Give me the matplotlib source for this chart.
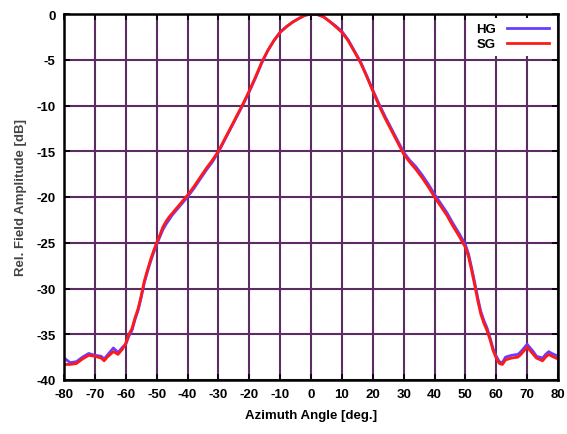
import matplotlib
matplotlib.use("Agg")
import matplotlib.pyplot as plt

angles = [-80, -78, -76, -74, -72, -70, -68, -67, -66, -64, -62.5, -61, -60, -59, -58, -57, -56, -55,
          -54, -53, -52, -51, -50, -49, -48, -47, -46, -45, -44, -42, -40, -38, -36, -34, -32, -30,
          -28, -26, -24, -22, -20, -18, -16, -14, -12, -10, -8, -6, -4, -2, 0, 2, 4, 6, 8, 10, 12,
          14, 16, 18, 20, 22, 24, 26, 28, 30, 32, 34, 36, 38, 40, 42, 44, 46, 48, 50, 51, 52, 53,
          54, 55, 56, 57, 58, 59, 60, 61, 62, 63, 65, 67, 68, 69, 70, 71, 72, 73, 75, 76, 77, 78, 80]

sg_db = [-38.3, -38.3, -38.2, -37.7, -37.3, -37.4, -37.6, -37.9, -37.5, -36.9, -37.2, -36.6, -36.0,
         -35.0, -34.4, -33.2, -32.2, -30.8, -29.2, -28.0, -26.9, -25.9, -25.0, -24.2, -23.3, -22.7,
         -22.2, -21.8, -21.4, -20.6, -19.8, -18.9, -17.9, -16.9, -16.0, -15.0, -13.7, -12.4, -11.1,
         -9.8, -8.4, -6.9, -5.3, -4.0, -2.9, -2.0, -1.4, -0.9, -0.5, -0.15, 0.0, -0.05, -0.3, -0.8,
         -1.4, -2.0, -2.9, -4.1, -5.3, -6.8, -8.4, -10.0, -11.4, -12.7, -14.0, -15.3, -16.2, -17.0,
         -17.9, -18.9, -20.0, -21.0, -22.0, -23.2, -24.3, -25.5, -26.5, -28.0, -29.6, -31.3, -32.8,
         -33.8, -34.6, -35.6, -36.8, -37.6, -38.2, -38.3, -37.8, -37.6, -37.5, -37.2, -36.8, -36.4,
         -36.8, -37.2, -37.6, -37.9, -37.5, -37.2, -37.4, -37.7]

hg_db = [-37.6, -38.1, -38.0, -37.5, -37.1, -37.3, -37.4, -37.7, -37.3, -36.5, -37.0, -36.4, -36.1,
         -35.2, -34.6, -33.4, -32.4, -31.0, -29.4, -28.2, -27.1, -26.1, -25.2, -24.4, -23.6, -23.0,
         -22.5, -22.0, -21.6, -20.8, -20.0, -19.1, -18.1, -17.1, -16.2, -15.1, -13.8, -12.5, -11.2,
         -9.9, -8.5, -7.0, -5.4, -4.0, -2.9, -2.0, -1.4, -0.9, -0.5, -0.15, 0.0, -0.05, -0.3, -0.8,
         -1.3, -1.9, -2.8, -4.0, -5.2, -6.7, -8.3, -9.8, -11.2, -12.5, -13.8, -15.1, -16.0, -16.7,
         -17.6, -18.6, -19.7, -20.7, -21.7, -22.9, -24.0, -25.2, -26.2, -27.7, -29.3, -31.0, -32.5,
         -33.5, -34.3, -35.4, -36.6, -37.4, -38.0, -38.1, -37.5, -37.3, -37.2, -36.9, -36.5, -36.1,
         -36.5, -36.9, -37.4, -37.6, -37.2, -36.9, -37.1, -37.4]

xticks = list(range(-80, 81, 10))
yticks = list(range(-40, 1, 5))

plt.rcParams['font.family'] = ['Liberation Sans', 'DejaVu Sans']

fig = plt.figure(figsize=(5.67, 4.35), dpi=100)
ax = fig.add_axes([64/567, 1-381/435, (558-64)/567, (381-15)/435])

grid_col = '#5c2d62'
ax.plot(angles, hg_db, color='#6a3cff', lw=2.0, label='HG', zorder=3)
ax.plot(angles, sg_db, color='#ff1a1a', lw=2.0, label='SG', zorder=4)

ax.set_xlim(-80, 80)
ax.set_ylim(-40, 0)
ax.set_xticks(xticks)
ax.set_yticks(yticks)
ax.set_xticklabels([str(t) for t in xticks], fontsize=9.5, fontweight='bold')
ax.set_yticklabels([str(t) for t in yticks], fontsize=9.5, fontweight='bold')
ax.grid(True, color=grid_col, lw=1.5, zorder=1)
ax.set_axisbelow(True)
ax.tick_params(direction='in', length=4, width=1.2, top=True, right=True, pad=6, colors='black')
for s in ax.spines.values():
    s.set_linewidth(1.8)
    s.set_color('black')
    s.set_zorder(5)

ax.set_xlabel('Azimuth Angle [deg.]', fontsize=9.5, fontweight='bold', labelpad=6)
ax.set_ylabel('Rel. Field Amplitude [dB]', fontsize=9.5, fontweight='bold', color='#444444', labelpad=7)

leg = ax.legend(loc='upper right', markerfirst=False, frameon=True, fancybox=False,
                handlelength=3.2, handletextpad=0.8, borderaxespad=0.3, labelspacing=0.2,
                prop={'weight': 'bold', 'size': 9.5})
leg.get_frame().set_facecolor('white')
leg.get_frame().set_edgecolor('none')
leg.get_frame().set_alpha(1.0)
leg.set_zorder(6)

fig.savefig('out.png', dpi=100)
